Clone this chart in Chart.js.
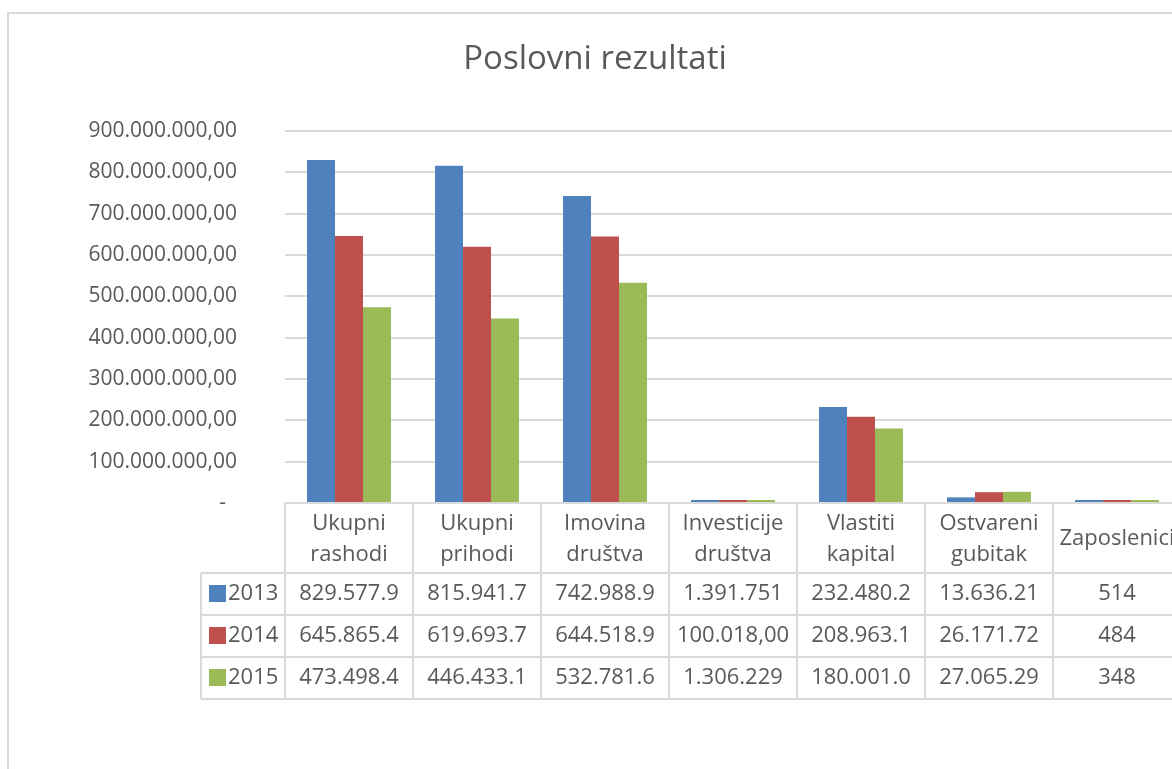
<!DOCTYPE html>
<html>
<head>
<meta charset="utf-8">
<script src="https://cdn.jsdelivr.net/npm/chart.js@4/dist/chart.umd.min.js"></script>
<style>
  html, body { margin: 0; padding: 0; background: #fff; overflow: hidden; width: 1172px; height: 769px; }
  #wrap { position: absolute; left: 0; top: 0; width: 1200px; height: 769px; }
</style>
</head>
<body>
<div id="wrap"><canvas id="c" width="1200" height="769"></canvas></div>
<script>
const chartTitle = 'Poslovni rezultati';
const categories = [['Ukupni','rashodi'],['Ukupni','prihodi'],['Imovina','društva'],['Investicije','društva'],['Vlastiti','kapital'],['Ostvareni','gubitak'],['Zaposlenici']];
const seriesNames = ['2013', '2014', '2015'];
const seriesColors = ['#4F81BD', '#C0504D', '#9BBB59'];
const values2013 = [829577900, 815941700, 742988900, 1391751, 232480200, 13636210, 514];
const values2014 = [645865400, 619693700, 644518900, 100018, 208963100, 26171720, 484];
const values2015 = [473498400, 446433100, 532781600, 1306229, 180001000, 27065290, 348];
const table2013 = ['829.577.9', '815.941.7', '742.988.9', '1.391.751', '232.480.2', '13.636.21', '514'];
const table2014 = ['645.865.4', '619.693.7', '644.518.9', '100.018,00', '208.963.1', '26.171.72', '484'];
const table2015 = ['473.498.4', '446.433.1', '532.781.6', '1.306.229', '180.001.0', '27.065.29', '348'];
const yMax = 900000000;
const yStep = 100000000;

const FONT = '"Open Sans", "Noto Sans", sans-serif';
const TEXT = '#595959';
const LINE = '#d9d9d9';

function fmtTick(v) {
  if (v === 0) return '-  ';
  const s = Math.round(v).toString();
  let out = '';
  for (let i = 0; i < s.length; i++) {
    if (i > 0 && (s.length - i) % 3 === 0) out += '.';
    out += s[i];
  }
  return out + ',00';
}

const tableRows = [table2013, table2014, table2015];

const tablePlugin = {
  id: 'tablePlugin',
  beforeDraw(chart) {
    const ctx = chart.ctx;
    ctx.save();
    ctx.strokeStyle = LINE;
    ctx.lineWidth = 2;
    ctx.beginPath();
    ctx.moveTo(8, 769);
    ctx.lineTo(8, 13);
    ctx.lineTo(1200, 13);
    ctx.stroke();
    ctx.fillStyle = TEXT;
    ctx.font = '33px ' + FONT;
    ctx.textAlign = 'center';
    ctx.textBaseline = 'middle';
    ctx.fillText(chartTitle, 595, 60);
    ctx.restore();
  },
  afterDraw(chart) {
    const ctx = chart.ctx;
    const xs = chart.scales.x;
    const area = chart.chartArea;
    const n = categories.length;
    const cw = (area.right - area.left) / n;
    const top = area.bottom;
    const headerBottom = 573;
    const rowH = 42;
    const tableBottom = headerBottom + rowH * 3;
    const legendLeft = 201;
    ctx.save();
    ctx.strokeStyle = LINE;
    ctx.lineWidth = 2;
    ctx.beginPath();
    ctx.moveTo(area.left, top); ctx.lineTo(1200, top);
    for (let r = 0; r <= 3; r++) {
      const y = headerBottom + r * rowH;
      ctx.moveTo(legendLeft, y); ctx.lineTo(1200, y);
    }
    for (let i = 0; i <= n; i++) {
      const x = area.left + i * cw;
      ctx.moveTo(x, top); ctx.lineTo(x, tableBottom);
    }
    ctx.moveTo(legendLeft, headerBottom); ctx.lineTo(legendLeft, tableBottom);
    ctx.stroke();

    ctx.fillStyle = TEXT;
    ctx.font = '22px ' + FONT;
    ctx.textAlign = 'center';
    ctx.textBaseline = 'middle';
    categories.forEach((lines, i) => {
      const cx = xs.getPixelForValue(i);
      if (lines.length === 1) {
        ctx.fillText(lines[0], cx, 539);
      } else {
        ctx.fillText(lines[0], cx, 524);
        ctx.fillText(lines[1], cx, 555);
      }
    });
    tableRows.forEach((row, r) => {
      const cy = headerBottom + r * rowH + rowH / 2;
      row.forEach((txt, i) => {
        ctx.fillText(txt, xs.getPixelForValue(i), cy);
      });
      ctx.fillStyle = seriesColors[r];
      ctx.fillRect(209, cy - 9, 17, 17);
      ctx.fillStyle = TEXT;
      ctx.textAlign = 'left';
      ctx.fillText(seriesNames[r], 228, cy);
      ctx.textAlign = 'center';
    });
    ctx.restore();
  }
};

new Chart(document.getElementById('c'), {
  type: 'bar',
  data: {
    labels: categories.map(c => c.join(' ')),
    datasets: [
      { label: seriesNames[0], data: values2013, backgroundColor: seriesColors[0] },
      { label: seriesNames[1], data: values2014, backgroundColor: seriesColors[1] },
      { label: seriesNames[2], data: values2015, backgroundColor: seriesColors[2] }
    ]
  },
  options: {
    responsive: false,
    animation: false,
    devicePixelRatio: 1,
    layout: { padding: { top: 131, bottom: 266, left: 0, right: 19 } },
    datasets: { bar: { categoryPercentage: 0.656, barPercentage: 1.0, minBarLength: 3, borderWidth: 0 } },
    plugins: { legend: { display: false }, title: { display: false }, tooltip: { enabled: false } },
    scales: {
      x: { display: false, grid: { display: false } },
      y: {
        min: 0, max: yMax,
        afterFit(scale) { scale.width = 285; },
        border: { display: false },
        grid: { color: LINE, lineWidth: 2, drawTicks: false },
        ticks: {
          stepSize: yStep,
          padding: 48,
          color: TEXT,
          font: { family: FONT, size: 21 },
          callback: (v) => fmtTick(v)
        }
      }
    }
  },
  plugins: [tablePlugin]
});
</script>
</body>
</html>
